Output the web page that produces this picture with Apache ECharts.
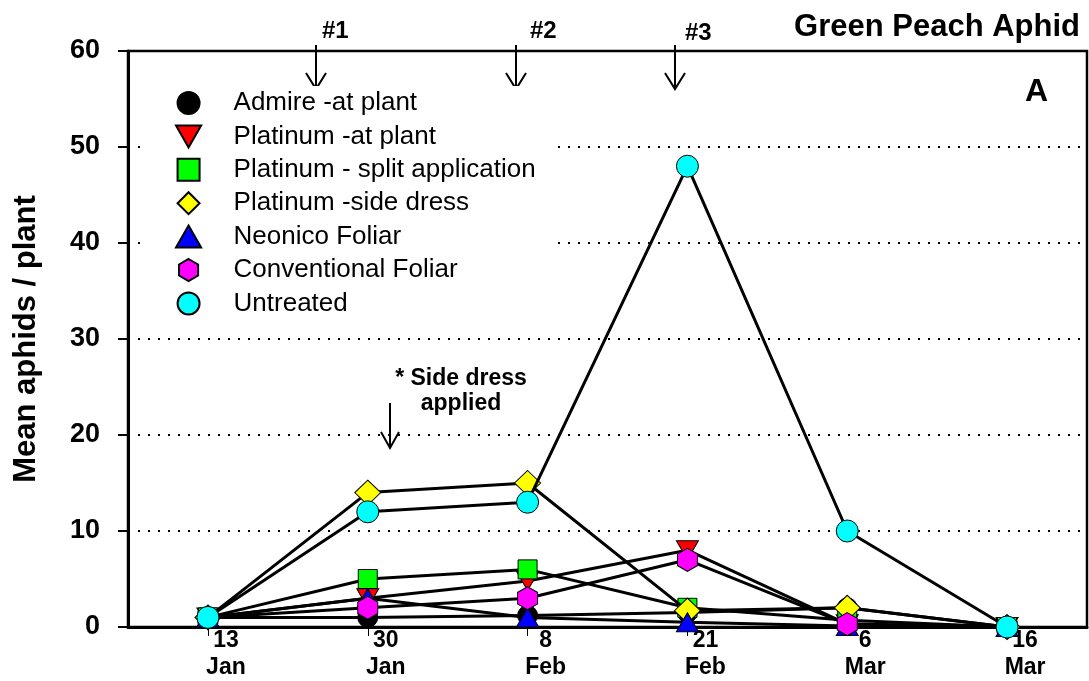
<!DOCTYPE html>
<html>
<head>
<meta charset="utf-8">
<script src="https://cdn.jsdelivr.net/npm/echarts@6/dist/echarts.min.js"></script>
<style>
html,body{margin:0;padding:0;background:#fff;}
#chart{width:1089px;height:681px;}
</style>
</head>
<body>
<div id="chart"></div>
<script>
const dates = ['13\nJan', '30\nJan', '8\nFeb', '21\nFeb', '6\nMar', '16\nMar'];
const yTicks = [0, 10, 20, 30, 40, 50, 60];
const seriesNames = ['Admire -at plant', 'Platinum -at plant', 'Platinum - split application', 'Platinum -side dress', 'Neonico Foliar', 'Conventional Foliar', 'Untreated'];
const admire       = [1, 1, 1.2, 1.5, 2, 0];
const platAtPlant  = [1, 3, 4.8, 8, 0.3, 0];
const platSplit    = [1, 5, 6, 2, 0.7, 0];
const platSide     = [1, 14, 15, 1.7, 2, 0];
const neonico      = [1, 3, 1, 0.5, 0.1, 0];
const conventional = [1, 2, 3, 7, 0.3, 0];
const untreated    = [1, 12, 13, 48, 10, 0];

const FONT = "'Liberation Sans', Arial, sans-serif";
const downTri = 'path://M0,0 L2,0 L1,1.75 Z';
const upTri = 'path://M1,0 L2,1.75 L0,1.75 Z';
const square = 'path://M0,0 L1,0 L1,1 L0,1 Z';
const diamond = 'path://M1,0 L2,1 L1,2 L0,1 Z';
const hexagon = 'path://M0.866,0 L1.732,0.5 L1.732,1.5 L0.866,2 L0,1.5 L0,0.5 Z';

const styles = [
  {data: admire, symbol: 'circle', size: 20, color: '#000000'},
  {data: platAtPlant, symbol: downTri, size: [22, 19], color: '#ff0000'},
  {data: platSplit, symbol: square, size: 19, color: '#00ff00'},
  {data: platSide, symbol: diamond, size: [26, 25], color: '#ffff00'},
  {data: neonico, symbol: upTri, size: [22, 19], color: '#0000ff'},
  {data: conventional, symbol: hexagon, size: [20, 23], color: '#ff00ff'},
  {data: untreated, symbol: 'circle', size: 22, color: '#00ffff'}
];

const chart = echarts.init(document.getElementById('chart'), null, {renderer: 'canvas'});

function arrow(x, y1, y2, w, h) {
  return [
    {type: 'line', shape: {x1: x, y1: y1, x2: x, y2: y2}, style: {stroke: '#000', lineWidth: 2}},
    {type: 'polyline', shape: {points: [[x - w, y2 - h], [x, y2], [x + w, y2 - h]]}, style: {stroke: '#000', fill: null, lineWidth: 2}}
  ];
}

const option = {
  backgroundColor: '#ffffff',
  animation: false,
  title: {
    text: 'Green Peach Aphid',
    right: 4,
    top: 7,
    textStyle: {fontFamily: FONT, fontWeight: 'bold', fontSize: 31, color: '#000'}
  },
  grid: {
    left: 128, right: 2, top: 51, bottom: 53,
    show: true, borderColor: '#000', borderWidth: 2.5, backgroundColor: 'transparent'
  },
  legend: {
    orient: 'vertical',
    left: 142,
    top: 86,
    padding: [4, 20, 4, 33],
    backgroundColor: '#ffffff',
    itemWidth: 80,
    itemHeight: 22,
    itemGap: 7.4,
    selectedMode: false,
    symbolKeepAspect: true,
    textStyle: {fontFamily: FONT, fontSize: 26, color: '#000', lineHeight: 26},
    data: seriesNames.map((n, i) => ({name: n, icon: styles[i].symbol}))
  },
  xAxis: {
    type: 'category',
    data: dates,
    boundaryGap: true,
    axisLine: {lineStyle: {color: '#000', width: 3}},
    axisTick: {show: true, alignWithLabel: true, length: 9, lineStyle: {color: '#000', width: 1}},
    axisLabel: {
      fontFamily: FONT, fontWeight: 'bold', fontSize: 23, color: '#000',
      lineHeight: 27, margin: 0, padding: [0, 0, 0, 36], interval: 0
    },
    splitLine: {show: false}
  },
  yAxis: {
    type: 'value',
    min: 0, max: 60, interval: 10,
    name: 'Mean aphids / plant',
    nameLocation: 'middle',
    nameGap: 86,
    nameTextStyle: {fontFamily: FONT, fontWeight: 'bold', fontSize: 31, color: '#000'},
    axisLine: {show: true, lineStyle: {color: '#000', width: 3}},
    axisTick: {show: true, length: 10, lineStyle: {color: '#000', width: 2}},
    axisLabel: {
      fontFamily: FONT, fontWeight: 'bold', fontSize: 27, color: '#000', margin: 28,
      formatter: v => (yTicks.indexOf(v) >= 0 ? String(v) : '')
    },
    splitLine: {show: true, lineStyle: {color: '#000', width: 2, type: [2, 8]}}
  },
  series: styles.map((s, i) => ({
    name: seriesNames[i],
    type: 'line',
    data: s.data,
    symbol: s.symbol,
    symbolSize: s.size,
    showAllSymbol: true,
    lineStyle: {color: '#000', width: 3},
    itemStyle: {color: s.color, borderColor: '#000', borderWidth: 1},
    emphasis: {disabled: true},
    z: 2 + i
  })),
  graphic: [
    {type: 'text', left: 322, top: 19, style: {text: '#1', font: "bold 24px 'Liberation Sans', Arial", fill: '#000'}},
    {type: 'text', left: 530, top: 19, style: {text: '#2', font: "bold 24px 'Liberation Sans', Arial", fill: '#000'}},
    {type: 'text', left: 685, top: 21, style: {text: '#3', font: "bold 24px 'Liberation Sans', Arial", fill: '#000'}},
    {type: 'text', left: 1025, top: 76, style: {text: 'A', font: "bold 32px 'Liberation Sans', Arial", fill: '#000'}},
    {type: 'text', x: 461, y: 366, style: {text: '* Side dress\napplied', font: "bold 23px 'Liberation Sans', Arial", fill: '#000', align: 'center', lineHeight: 25}},
    ...arrow(316, 45, 89, 10, 16),
    ...arrow(516, 45, 89, 10, 16),
    ...arrow(675, 45, 89, 10, 16),
    ...arrow(390, 403, 448, 9, 16)
  ]
};
chart.setOption(option);
</script>
</body>
</html>
